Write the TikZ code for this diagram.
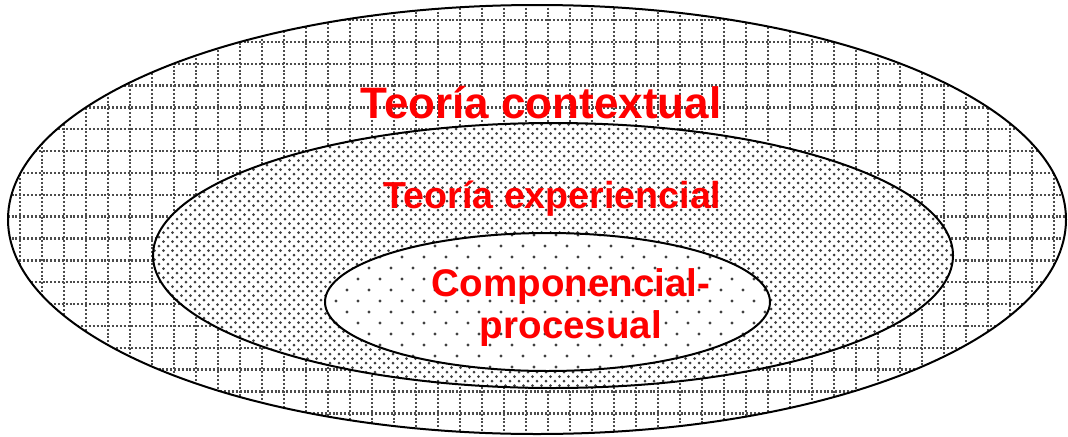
\documentclass[tikz,border=0pt]{standalone}
\usepackage{fontspec}
\setmainfont{Liberation Sans}
\usepackage{tikz}
\usepackage{xcolor}

\tikzset{
  ringline/.style={line width=1.5pt},
  gridline/.style={black!70,line width=1.8pt,dash pattern=on 1.5pt off 1.4pt},
  dotfill/.style={fill=black!75},
  ringlabel/.style={text=red,font=\bfseries,inner sep=0pt}
}

\begin{document}
\begin{tikzpicture}[x=0.75pt,y=0.75pt,yscale=-1,xscale=1]
\useasboundingbox (0,0) rectangle (1068,436);

%Outer ring: dotted grid
\begin{scope}
\clip (537,219.5) ellipse [x radius=529,y radius=214.5];
\foreach \k in {0,...,47}
  \draw[gridline] ({20+22*\k},0) -- ({20+22*\k},436);
\foreach \k in {0,...,18}
  \draw[gridline] (0,{20+21.85*\k}) -- (1068,{20+21.85*\k});
\end{scope}

%Middle ring: dense dots
\begin{scope}
\clip (553,255.5) ellipse [x radius=400,y radius=132.5];
\fill[white] (553,255.5) ellipse [x radius=400,y radius=132.5];
\foreach \j in {0,...,30}
  \fill[dotfill] \foreach \i in {0,...,89}
    { ({150+9*\i},{120+9*\j}) circle [radius=1.5] ({154.5+9*\i},{124.5+9*\j}) circle [radius=1.5] };
\end{scope}

%Inner ring: sparse dots
\begin{scope}
\clip (547.5,302) ellipse [x radius=222.5,y radius=69];
\fill[white] (547.5,302) ellipse [x radius=222.5,y radius=69];
\foreach \j in {0,...,7}
  \fill[dotfill] \foreach \i in {0,...,21}
    { ({325+22*\i},{224+22*\j}) circle [radius=1.6] ({336+22*\i},{235+22*\j}) circle [radius=1.6] };
\end{scope}

%Outlines
\draw[ringline] (537,219.5) ellipse [x radius=529,y radius=214.5];
\draw[ringline] (553,255.5) ellipse [x radius=400,y radius=132.5];
\draw[ringline] (547.5,302) ellipse [x radius=222.5,y radius=69];

% Text Node
\node[ringlabel,anchor=base,font=\bfseries\fontsize{33}{39}\selectfont] (contextual) at (541,118) {Teoría contextual};
% Text Node
\node[ringlabel,anchor=base,font=\bfseries\fontsize{28.2}{34}\selectfont] (experiencial) at (552.5,208) {Teoría experiencial};
% Text Node
\node[ringlabel,align=center,font=\bfseries\fontsize{28.9}{31.5}\selectfont] (componencial) at (571,308) {Componencial-\\procesual};
\end{tikzpicture}
\end{document}
